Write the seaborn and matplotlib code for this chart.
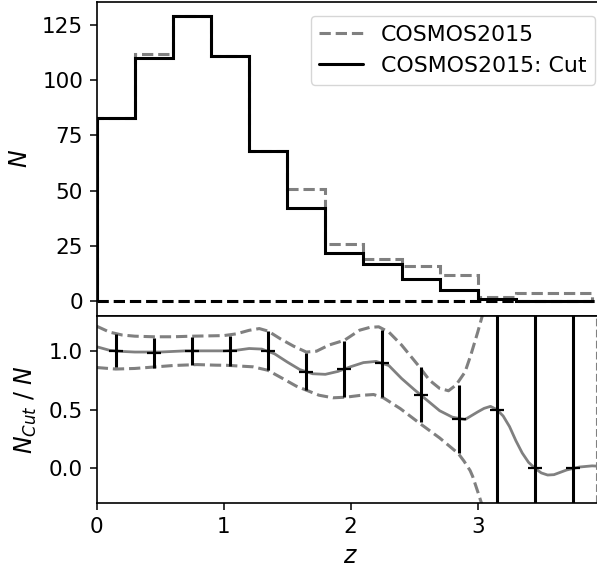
import numpy as np
import matplotlib
matplotlib.use("Agg")
import matplotlib.pyplot as plt
from matplotlib.lines import Line2D
import seaborn as sns

# ---------------- data ----------------
bin_edges = [0.0, 0.3, 0.6, 0.9, 1.2, 1.5, 1.8, 2.1, 2.4, 2.7, 3.0, 3.3, 3.6, 3.9]
counts_all = [83, 112, 129, 111, 68, 51, 26, 19, 16, 12, 2, 4, 4]
counts_cut = [83, 110, 129, 111, 68, 42, 22, 17, 10, 5, 1, 0, 0]
ratio_err = [0.14, 0.125, 0.12, 0.125, 0.167, 0.155, 0.24, 0.287, 0.235, 0.29, 2.0, 2.0, 2.0]

# smooth ratio curve
mid_z = [0.0, 0.1, 0.2, 0.3, 0.4, 0.5, 0.6, 0.7, 0.8, 0.9, 1.0, 1.1, 1.2, 1.3, 1.4,
         1.5, 1.6, 1.7, 1.8, 1.9, 2.0, 2.1, 2.2, 2.3, 2.4, 2.5, 2.6, 2.7, 2.8, 2.9,
         3.0, 3.05, 3.1, 3.15, 3.2, 3.25, 3.3, 3.35, 3.4, 3.45, 3.5, 3.55, 3.6, 3.65,
         3.7, 3.8, 3.9, 4.0]
mid_r = [1.035, 1.005, 0.995, 0.99, 0.99, 0.99, 0.995, 1.0, 1.0, 1.0, 1.0, 1.005, 1.02,
         1.015, 0.975, 0.905, 0.84, 0.805, 0.80, 0.825, 0.865, 0.90, 0.91, 0.875, 0.765,
         0.67, 0.58, 0.49, 0.435, 0.415, 0.48, 0.51, 0.527, 0.50, 0.445, 0.355, 0.235,
         0.13, 0.05, 0.0, -0.04, -0.058, -0.055, -0.035, -0.015, 0.01, 0.02, 0.015]

up_z = [0.0, 0.1, 0.2, 0.3, 0.45, 0.6, 0.75, 0.9, 1.0, 1.1, 1.2, 1.28, 1.35, 1.45, 1.55,
        1.65, 1.73, 1.83, 1.95, 2.07, 2.15, 2.22, 2.3, 2.4, 2.53, 2.62, 2.70, 2.77, 2.83,
        2.90, 2.945, 3.0, 3.036, 3.07]
up_r = [1.21, 1.16, 1.135, 1.125, 1.12, 1.12, 1.125, 1.128, 1.13, 1.145, 1.175, 1.19,
        1.168, 1.10, 1.04, 0.99, 0.997, 1.05, 1.09, 1.176, 1.20, 1.205, 1.16, 1.05, 0.878,
        0.75, 0.68, 0.66, 0.71, 0.82, 0.963, 1.16, 1.30, 1.45]

lo_z = [0.0, 0.15, 0.3, 0.47, 0.6, 0.79, 0.94, 1.02, 1.23, 1.346, 1.465, 1.57, 1.65,
        1.75, 1.86, 1.96, 2.07, 2.18, 2.257, 2.39, 2.546, 2.70, 2.847, 2.892, 2.94, 2.96,
        3.0, 3.03, 3.06]
lo_r = [0.858, 0.845, 0.85, 0.864, 0.875, 0.883, 0.878, 0.877, 0.864, 0.835, 0.764, 0.70,
        0.665, 0.622, 0.60, 0.605, 0.62, 0.628, 0.60, 0.508, 0.38, 0.258, 0.125, 0.06,
        -0.02, -0.07, -0.2, -0.3, -0.45]

z_limit = 3.94

# ---------------- figure ----------------
sns.set_theme(style="ticks", rc={"text.color": "black", "axes.labelcolor": "black",
                                 "xtick.color": "black", "ytick.color": "black",
                                 "axes.edgecolor": "black"})
plt.rcParams["font.family"] = ["DejaVu Sans"]
plt.rcParams["mathtext.fontset"] = "dejavusans"

FS = 15.5
LFS = 17
fig = plt.figure(figsize=(5.97, 5.76), dpi=100)
ax1 = fig.add_axes([0.162, 0.452, 0.851, 0.545])
ax2 = fig.add_axes([0.162, 0.126, 0.851, 0.326])

edges = np.array(bin_edges)
centers = 0.5 * (edges[:-1] + edges[1:])
c_all = np.array(counts_all, dtype=float)
c_cut = np.array(counts_cut, dtype=float)

ax1.stairs(c_all, edges, color="grey", linestyle="--", linewidth=2.2, baseline=0)
ax1.stairs(c_cut, edges, color="black", linewidth=2.2, baseline=0)
ax1.axhline(0, color="black", linestyle="--", linewidth=2.2)
ymax = c_all.max()
ax1.set_ylim(-0.05 * ymax, 1.05 * ymax)
ax1.set_xlim(0, 4.0)
ax1.set_yticks([0, 25, 50, 75, 100, 125])
ax1.set_ylabel(r"$N$", fontsize=LFS, labelpad=7)
ax1.tick_params(bottom=False, labelbottom=False)

handles = [Line2D([], [], color="grey", linestyle="--", linewidth=2.2),
           Line2D([], [], color="black", linewidth=2.2)]
ax1.legend(handles, ["COSMOS2015", "COSMOS2015: Cut"], loc="upper right",
           bbox_to_anchor=(595 / 597, 1 - 16 / 576), bbox_transform=fig.transFigure,
           borderaxespad=0, fontsize=15.8)

# ratio panel
ratio = c_cut / c_all
sns.lineplot(x=up_z, y=up_r, ax=ax2, color="grey", linestyle="--", linewidth=2.2,
             sort=False, estimator=None)
sns.lineplot(x=lo_z, y=lo_r, ax=ax2, color="grey", linestyle="--", linewidth=2.2,
             sort=False, estimator=None)
sns.lineplot(x=mid_z, y=mid_r, ax=ax2, color="grey", linewidth=2,
             sort=False, estimator=None)
ax2.errorbar(centers, ratio, yerr=ratio_err, fmt="_", color="black", ms=10, mew=1.6,
             elinewidth=2.2, capsize=0, zorder=5)
ax2.axvline(z_limit, color="grey", linestyle="--", linewidth=1.5)
ax2.set_xlim(0, 4.0)
ax2.set_ylim(-0.3, 1.3)
ax2.set_xticks([0, 1, 2, 3])
ax2.set_yticks([0.0, 0.5, 1.0])
ax2.set_xlabel(r"$z$", fontsize=LFS, labelpad=5)
ax2.set_ylabel(r"$N_{Cut}$ / $N$", fontsize=LFS, labelpad=7)

for ax in (ax1, ax2):
    ax.tick_params(labelsize=FS, length=4.8, width=1.1, pad=5, color="black",
                   labelcolor="black")
    for s in ax.spines.values():
        s.set_linewidth(1.2)
        s.set_color("black")
fig.align_ylabels([ax1, ax2])

fig.savefig("out.png", dpi=100)
